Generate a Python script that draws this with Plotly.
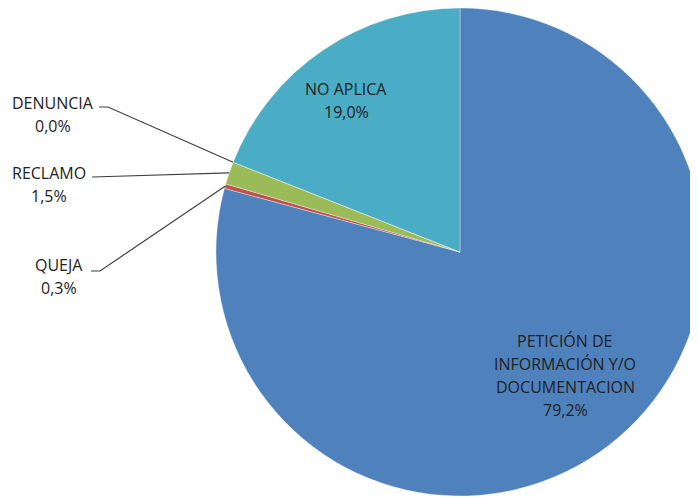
import math
import plotly.graph_objects as go

# ---- data ----
categories = ["PETICIÓN DE INFORMACIÓN Y/O DOCUMENTACION", "QUEJA", "RECLAMO", "DENUNCIA", "NO APLICA"]
values = [79.2, 0.3, 1.5, 0.0, 19.0]
label_lines = [["PETICIÓN DE", "INFORMACIÓN Y/O", "DOCUMENTACION"], ["QUEJA"], ["RECLAMO"], ["DENUNCIA"], ["NO APLICA"]]
colors = ["#4F81BD", "#C0504D", "#9BBB59", "#8064A2", "#4BACC6"]

# ---- layout geometry (page pixels; the page body adds an 8px margin) ----
OFF = 8
W, H = 698, 497
CX, CY, R = 460, 252, 244
LINE_STEP = 23
FONT = dict(family="Open Sans, Liberation Sans, sans-serif", size=16, color="#222222")

# label centre x, first-line y, optional leader (anchor x, anchor y, knee x)
label_pos = [
    dict(x=565, y=341, leader=None),
    dict(x=59, y=265, leader=(91, 271, 100)),
    dict(x=49, y=173, leader=(92, 177, None)),
    dict(x=53, y=103, leader=(99, 107, 108)),
    dict(x=346, y=89, leader=None),
]


def px(x):
    return (x - OFF) / W


def py(y):
    return 1 - (y - OFF) / H


fig = go.Figure(go.Pie(
    labels=categories,
    values=values,
    sort=False,
    direction="clockwise",
    rotation=0,
    textinfo="none",
    hoverinfo="label+percent",
    showlegend=False,
    marker=dict(colors=colors, line=dict(color="rgba(255,255,255,0.35)", width=1)),
    domain=dict(x=[px(CX - R), min(1.0, px(CX + R))], y=[max(0.0, py(CY + R)), min(1.0, py(CY - R))]),
))

total = sum(values)
annotations = []
shapes = []
cum = 0.0
for i, (v, lines, pos) in enumerate(zip(values, label_lines, label_pos)):
    mid = (cum + v / 2) / total * 2 * math.pi
    cum += v
    pct = f"{v / total * 100:.1f}%".replace(".", ",")
    all_lines = lines + [pct]
    for k, t in enumerate(all_lines):
        annotations.append(dict(
            x=px(pos["x"]), y=py(pos["y"] + k * LINE_STEP), xref="paper", yref="paper",
            text=t, showarrow=False, xanchor="center", yanchor="middle", font=FONT,
        ))
    if pos["leader"]:
        ax, ay, kx = pos["leader"]
        ex = CX + R * math.sin(mid)
        ey = CY - R * math.cos(mid)
        path = f"M {px(ax)} {py(ay)}"
        if kx is not None:
            path += f" L {px(kx)} {py(ay)}"
        path += f" L {px(ex)} {py(ey)}"
        shapes.append(dict(type="path", path=path, xref="paper", yref="paper",
                           line=dict(color="#404040", width=1.2)))

fig.update_layout(
    width=W, height=H,
    margin=dict(l=0, r=0, t=0, b=0),
    paper_bgcolor="white",
    plot_bgcolor="white",
    annotations=annotations,
    shapes=shapes,
)

fig.write_html("out.html")
